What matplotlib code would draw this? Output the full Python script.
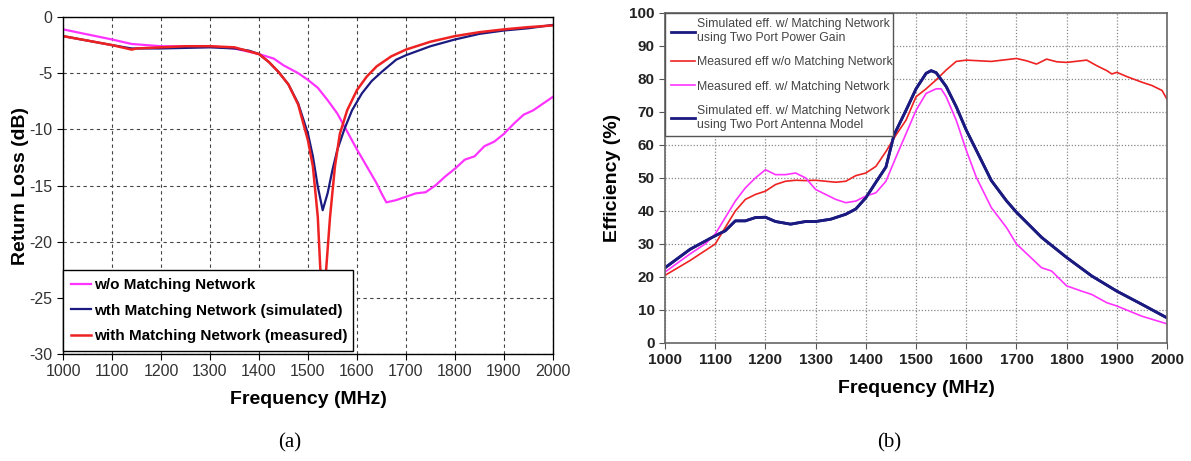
import matplotlib
matplotlib.use("Agg")
import matplotlib.pyplot as plt

plt.rcParams["font.family"] = ["Liberation Sans", "DejaVu Sans"]
plt.rcParams["axes.unicode_minus"] = False

# (a) return loss
rl_freq_wo = [1000, 1100, 1140, 1200, 1300, 1350, 1400, 1430, 1450, 1480, 1500, 1520, 1540,
              1560, 1580, 1600, 1620, 1640, 1650, 1660, 1680, 1700, 1720, 1740, 1760, 1780,
              1800, 1820, 1840, 1860, 1880, 1900, 1920, 1940, 1960, 1980, 2000]
rl_wo = [-1.1, -2.0, -2.4, -2.6, -2.6, -2.8, -3.3, -3.7, -4.3, -5.0, -5.6, -6.3, -7.4,
         -8.6, -10.2, -11.8, -13.3, -14.8, -15.7, -16.5, -16.3, -16.0, -15.7, -15.6, -15.0, -14.2,
         -13.5, -12.7, -12.4, -11.5, -11.1, -10.4, -9.5, -8.7, -8.3, -7.7, -7.1]

rl_freq_sim = [1000, 1050, 1100, 1140, 1200, 1300, 1350, 1380, 1400, 1420, 1440, 1460, 1480,
               1500, 1510, 1520, 1530, 1540, 1550, 1560, 1575, 1590, 1610, 1630, 1650, 1680,
               1700, 1750, 1800, 1850, 1900, 1950, 2000]
rl_sim = [-1.7, -2.1, -2.5, -2.8, -2.8, -2.7, -2.8, -3.0, -3.3, -4.0, -4.9, -6.0, -7.7,
          -10.4, -12.4, -15.1, -17.2, -15.7, -13.6, -11.8, -9.9, -8.3, -6.8, -5.7, -4.9, -3.8,
          -3.4, -2.6, -2.0, -1.5, -1.2, -1.0, -0.7]

rl_freq_meas = [1000, 1100, 1140, 1150, 1200, 1250, 1300, 1350, 1400, 1420, 1440, 1460, 1480,
                1500, 1510, 1520, 1525, 1530, 1537, 1545, 1555, 1565, 1580, 1600, 1620, 1640,
                1670, 1700, 1750, 1800, 1850, 1900, 1950, 2000]
rl_meas = [-1.7, -2.5, -2.9, -2.8, -2.7, -2.6, -2.6, -2.7, -3.3, -4.0, -4.9, -6.0, -7.8,
           -11.0, -13.3, -17.8, -22.3, -26.0, -22.5, -17.8, -13.3, -10.4, -8.3, -6.5, -5.3, -4.4,
           -3.5, -2.9, -2.2, -1.7, -1.35, -1.1, -0.9, -0.75]

# (b) efficiency
eff_freq_sim = [1000, 1050, 1100, 1120, 1140, 1160, 1180, 1200, 1220, 1250, 1280, 1300, 1330,
                1360, 1380, 1400, 1420, 1440, 1456, 1480, 1500, 1520, 1530, 1540, 1560, 1580,
                1600, 1620, 1650, 1680, 1700, 1750, 1800, 1850, 1900, 1950, 2000]
eff_sim_gain = [22.8, 28.4, 32.5, 34.0, 37.0, 37.0, 38.0, 38.1, 36.8, 36.0, 36.8, 36.8, 37.5,
                39.0, 40.6, 44.0, 48.7, 53.3, 63.0, 70.5, 77.0, 81.7, 82.5, 81.9, 77.7, 71.6,
                64.5, 58.4, 49.2, 43.1, 39.6, 32.0, 25.9, 20.3, 15.7, 11.7, 7.6]
eff_sim_model = eff_sim_gain  # the two simulated curves lie on top of each other

eff_freq_wm = [1000, 1050, 1080, 1100, 1120, 1140, 1160, 1180, 1200, 1220, 1240, 1260, 1280,
               1300, 1320, 1340, 1360, 1380, 1400, 1420, 1440, 1460, 1480, 1500, 1520, 1540,
               1550, 1560, 1580, 1600, 1620, 1650, 1680, 1700, 1750, 1770, 1800, 1830, 1850,
               1880, 1900, 1950, 2000]
eff_meas_wm = [21.5, 27.0, 30.0, 33.0, 38.0, 43.0, 47.0, 50.0, 52.5, 51.0, 51.0, 51.5, 50.0,
               46.5, 45.0, 43.5, 42.5, 43.0, 44.5, 45.5, 49.0, 56.3, 63.4, 70.5, 75.6, 77.0,
               77.0, 74.6, 67.5, 58.4, 50.2, 41.0, 35.0, 30.0, 22.8, 21.8, 17.3, 15.7, 14.7,
               12.2, 11.2, 8.1, 5.8]

eff_freq_wo = [1000, 1050, 1080, 1100, 1120, 1140, 1160, 1180, 1200, 1220, 1240, 1260, 1280,
               1300, 1320, 1340, 1360, 1380, 1400, 1420, 1440, 1460, 1480, 1500, 1520, 1540,
               1560, 1580, 1600, 1650, 1700, 1720, 1740, 1760, 1780, 1800, 1840, 1860, 1880,
               1890, 1900, 1920, 1950, 1970, 1990, 2000]
eff_meas_wo = [20.5, 25.0, 28.0, 30.0, 35.0, 40.0, 43.5, 45.0, 46.0, 48.0, 49.0, 49.3, 49.2,
               49.3, 49.0, 48.7, 49.0, 50.7, 51.5, 53.5, 58.0, 63.0, 67.5, 74.6, 77.0, 79.7,
               82.7, 85.3, 85.7, 85.3, 86.2, 85.5, 84.5, 86.0, 85.2, 85.0, 85.7, 84.0, 82.5,
               81.5, 82.0, 80.7, 79.0, 78.0, 76.5, 73.8]

freq_ticks = list(range(1000, 2001, 100))

MAGENTA = "#ff33ff"
NAVY = "#1a1a80"
RED = "#ee2222"


def main():
    fig = plt.figure(figsize=(11.91, 4.61), dpi=100)

    # ---- (a) ----
    ax = fig.add_axes([0.0529, 0.2321, 0.4114, 0.731])
    ax.plot(rl_freq_wo, rl_wo, color=MAGENTA, lw=1.6, label="w/o Matching Network")
    ax.plot(rl_freq_sim, rl_sim, color=NAVY, lw=1.6, label="wth Matching Network (simulated)")
    ax.plot(rl_freq_meas, rl_meas, color=RED, lw=1.8, label="with Matching Network (measured)")
    ax.set_xlim(1000, 2000)
    ax.set_ylim(-30, 0)
    ax.set_xticks(freq_ticks)
    ax.set_yticks(range(-30, 1, 5))
    ax.grid(color="#444444", linestyle=(0, (3, 3)), linewidth=0.8)
    ax.tick_params(direction="out", length=4, labelsize=11.5, labelcolor="#333333")
    for s in ax.spines.values():
        s.set_color("black")
        s.set_linewidth(1.0)
    ax.set_xlabel("Frequency (MHz)", fontsize=14, fontweight="bold", labelpad=8)
    ax.set_ylabel("Return Loss (dB)", fontsize=14, fontweight="bold", labelpad=0)
    leg = ax.legend(loc="upper left", bbox_to_anchor=(0.0, 0.0, 0.592, 0.25), mode="expand",
                    borderaxespad=0.0, fancybox=False, framealpha=1, edgecolor="black",
                    handlelength=1.3, handletextpad=0.2, labelspacing=0.75, borderpad=0.55,
                    prop={"weight": "bold", "size": 11})
    leg.get_frame().set_linewidth(1.0)

    # ---- (b) ----
    bx = fig.add_axes([0.5584, 0.256, 0.4215, 0.716])
    bx.plot(eff_freq_sim, eff_sim_gain, color=NAVY, lw=2.0,
            label="Simulated eff. w/ Matching Network\nusing Two Port Power Gain")
    bx.plot(eff_freq_wo, eff_meas_wo, color=RED, lw=1.2,
            label="Measured eff w/o Matching Network")
    bx.plot(eff_freq_wm, eff_meas_wm, color=MAGENTA, lw=1.2,
            label="Measured eff. w/ Matching Network")
    bx.plot(eff_freq_sim, eff_sim_model, color=NAVY, lw=2.0,
            label="Simulated eff. w/ Matching Network\nusing Two Port Antenna Model")
    bx.set_xlim(1000, 2000)
    bx.set_ylim(0, 100)
    bx.set_xticks(freq_ticks)
    bx.set_yticks(range(0, 101, 10))
    bx.grid(color="#888888", linestyle=(0, (1, 1.5)), linewidth=0.9)
    bx.tick_params(direction="out", length=4, labelsize=11, colors="#555555",
                   labelcolor="#222222")
    for lab in bx.get_xticklabels() + bx.get_yticklabels():
        lab.set_fontweight("bold")
    for s in bx.spines.values():
        s.set_color("#666666")
        s.set_linewidth(1.2)
    bx.set_xlabel("Frequency (MHz)", fontsize=14, fontweight="bold", labelpad=9)
    bx.set_ylabel("Efficiency (%)", fontsize=14, fontweight="bold", labelpad=6)
    leg2 = bx.legend(loc="upper left", bbox_to_anchor=(0.0, 0.63, 0.455, 0.37), mode="expand",
                     borderaxespad=0.0, fancybox=False, framealpha=1, edgecolor="#555555",
                     handlelength=2.0, handletextpad=0.2, labelspacing=1.0, borderpad=0.45,
                     prop={"size": 8.8})
    for t in leg2.get_texts():
        t.set_color("#444444")
    leg2.get_frame().set_linewidth(1.0)

    fig.text(0.2435, 0.03, "(a)", fontsize=15, family="Liberation Serif", ha="center")
    fig.text(0.747, 0.03, "(b)", fontsize=15, family="Liberation Serif", ha="center")

    plt.savefig("out.png", dpi=100)


if __name__ == "__main__":
    main()
